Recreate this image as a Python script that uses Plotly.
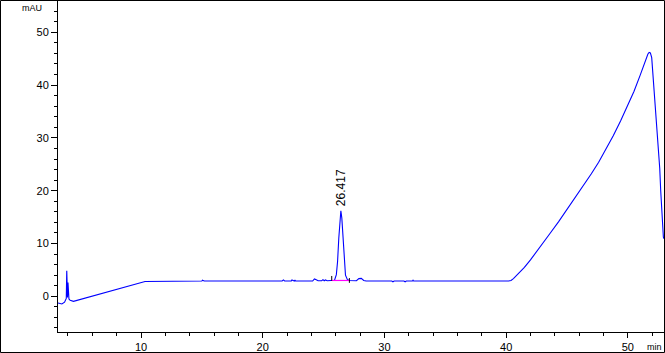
import plotly.graph_objects as go

# ---- data ----
time_min = [3.18, 3.5, 3.72, 3.8, 3.86, 3.9, 3.93, 3.96, 4.0, 4.03, 4.08, 4.18, 4.45,
            10.33, 15.0, 15.05, 15.15, 15.2, 21.6, 21.7, 21.8, 22.35, 22.4, 22.5,
            22.6, 22.65, 22.7, 24.1, 24.25, 24.4, 24.55, 24.85, 24.95, 25.05, 25.15,
            25.3, 25.6, 25.9, 26.05, 26.15, 26.25, 26.35, 26.42, 26.5, 26.6, 26.7,
            26.8, 26.95, 27.1, 27.7, 27.9, 28.1, 28.3, 28.5, 30.6, 30.7, 30.8, 31.6,
            31.7, 31.8, 32.3, 32.35, 32.4, 40.2, 40.4, 40.6, 40.8, 41.1, 41.5, 42.0,
            42.5, 43.0, 43.6, 44.3, 45.0, 45.7, 46.35, 47.0, 47.6, 48.2, 48.8, 49.4,
            50.0, 50.5, 51.0, 51.3, 51.5, 51.65, 51.75, 51.85, 51.96, 52.05, 52.16,
            52.32, 52.51, 52.62, 52.7, 52.8, 52.92, 52.97]
signal_mau = [-1.25, -1.45, -1.1, -0.5, -0.4, 4.85, 0.3, -0.2, 2.6, 0.0, -0.5, -0.75, -0.95,
              2.8, 2.9, 3.05, 2.9, 2.9, 2.9, 3.1, 2.9, 2.9, 3.1, 2.95,
              2.9, 3.1, 2.9, 2.9, 3.3, 3.15, 2.95, 2.95, 3.15, 2.95, 3.1,
              2.95, 3.0, 3.05, 4.1, 6.6, 11.0, 15.1, 16.2, 14.8, 10.5, 6.3,
              4.0, 3.2, 3.0, 2.95, 3.35, 3.4, 3.0, 2.9, 2.9, 2.75, 2.9, 2.9,
              2.75, 2.9, 2.9, 3.05, 2.9, 2.9, 3.0, 3.35, 3.8, 4.5, 5.5, 6.9,
              8.4, 10.0, 11.9, 14.1, 16.4, 18.7, 20.9, 23.2, 25.4, 27.8, 30.4, 33.2,
              36.1, 38.8, 41.8, 43.8, 45.1, 45.9, 46.2, 46.1, 45.2, 42.5, 39.1,
              32.8, 27.7, 24.2, 20.0, 15.5, 11.2, 10.9]

peak_label = "26.417"
peak_rt = [26.42]
peak_top = [16.2]

# integration baseline of the labelled peak
baseline_t = [25.67, 27.12]
baseline_y = [3.0, 3.0]
start_tick_y = [2.95, 3.85]
end_tick_y = [2.55, 3.45]

x_range = [3.18, 52.97]
y_range = [-6.76, 55.93]
x_major = [10, 20, 30, 40, 50]
y_major = [0, 10, 20, 30, 40, 50]

W, H = 665, 353
ML, MR, MT, MB = 58, 1, 1, 21
FONT = "Liberation Sans, Arial, sans-serif"

fig = go.Figure()
fig.add_trace(go.Scatter(x=time_min, y=signal_mau, mode="lines",
                         line=dict(color="#0000FF", width=1.1), hoverinfo="skip"))
fig.add_trace(go.Scatter(x=baseline_t, y=baseline_y, mode="lines",
                         line=dict(color="#FF00FF", width=1.2), hoverinfo="skip"))
fig.add_trace(go.Scatter(x=[baseline_t[0]] * 2, y=start_tick_y, mode="lines",
                         line=dict(color="black", width=1), hoverinfo="skip"))
fig.add_trace(go.Scatter(x=[baseline_t[1]] * 2, y=end_tick_y, mode="lines",
                         line=dict(color="black", width=1), hoverinfo="skip"))

fig.add_annotation(x=peak_rt[0], y=peak_top[0], text=peak_label, textangle=-90,
                   showarrow=False, xanchor="center", yanchor="bottom", yshift=3,
                   font=dict(family=FONT, size=12, color="black"))

pw = W - ML - MR
ph = H - MT - MB
# outer frame around the whole picture
fig.add_shape(type="rect", xref="paper", yref="paper",
              x0=-(ML - 0.5) / pw, x1=1 + (MR - 0.5) / pw,
              y0=-(MB - 0.5) / ph, y1=1 + (MT - 0.5) / ph,
              line=dict(color="black", width=1), fillcolor="rgba(0,0,0,0)")

fig.add_annotation(xref="paper", yref="paper", x=-(ML - 44) / pw, y=1 - (8 - MT) / ph,
                   text="mAU", showarrow=False, xanchor="right", yanchor="middle",
                   font=dict(family=FONT, size=9, color="black"))
fig.add_annotation(xref="paper", yref="paper", x=1, y=-(347 - (H - MB)) / ph,
                   text="min", showarrow=False, xanchor="right", yanchor="middle",
                   font=dict(family=FONT, size=9, color="black"))

fig.update_xaxes(range=x_range, showgrid=False, zeroline=False, showline=True,
                 linecolor="black", linewidth=1, ticks="outside", ticklen=5,
                 tickcolor="black", tickvals=x_major, ticktext=[str(v) for v in x_major],
                 tickfont=dict(family=FONT, size=11, color="black"),
                 minor=dict(ticks="outside", ticklen=3, tickcolor="black", dtick=2,
                            tick0=0, showgrid=False))
fig.update_yaxes(range=y_range, showgrid=False, zeroline=False, showline=True,
                 linecolor="black", linewidth=1, ticks="outside", ticklen=6,
                 tickcolor="black", tickvals=y_major, ticktext=[str(v) for v in y_major],
                 tickfont=dict(family=FONT, size=11, color="black"),
                 minor=dict(ticks="outside", ticklen=3, tickcolor="black", dtick=2,
                            tick0=0, showgrid=False))

fig.update_layout(width=W, height=H, margin=dict(l=ML, r=MR, t=MT, b=MB),
                  paper_bgcolor="white", plot_bgcolor="white", showlegend=False)

fig.write_html("out.html", config={"displayModeBar": False})
